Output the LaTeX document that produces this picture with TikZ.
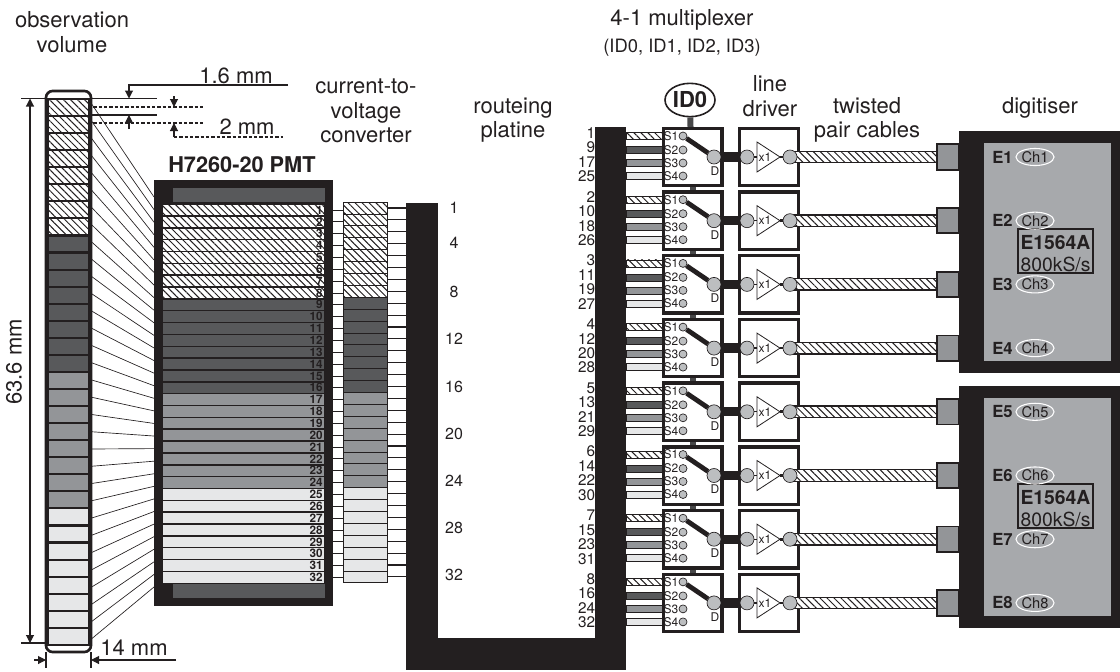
\documentclass[tikz,border=0pt]{standalone}
\usepackage{fontspec}
\setmainfont{TeX Gyre Heros}
\usetikzlibrary{shapes.geometric,patterns.meta,arrows.meta}
\definecolor{ink}{HTML}{231F20}
\definecolor{toneDark}{HTML}{58595B}
\definecolor{toneMid}{HTML}{939598}
\definecolor{toneLight}{HTML}{E6E7E8}
\definecolor{knob}{HTML}{BCBEC0}
\definecolor{panel}{HTML}{A7A9AC}
\tikzset{
hatch/.style={preaction={fill=white},pattern={Lines[angle=-45,distance=3.7pt,line width=.75pt]},pattern color=ink},
band0/.style={hatch},
band1/.style={fill=toneDark},
band2/.style={fill=toneMid},
band3/.style={fill=toneLight},
volcell/.style={rectangle,draw=ink,line width=1.6pt,inner sep=0pt,minimum width=31pt,minimum height=12.8pt},
pmtrow/.style={rectangle,draw=ink,line width=1.1pt,inner sep=0pt,minimum width=122pt,minimum height=8.9pt},
cvcrow/.style={rectangle,draw=ink,line width=.6pt,inner sep=0pt,minimum width=33pt,minimum height=8.9pt},
rownum/.style={font=\bfseries\fontsize{8.8}{8.8}\selectfont,text=ink,inner sep=0pt},
inband/.style={rectangle,draw=ink,line width=.4pt,inner sep=0pt,minimum width=27pt,minimum height=5.2pt},
unitbox/.style={rectangle,draw=ink,line width=2.5pt,fill=white,inner sep=0pt,minimum width=44pt,minimum height=43pt},
srcdot/.style={circle,draw=ink,line width=.5pt,fill=knob,inner sep=0pt,minimum size=6pt},
bigdot/.style={circle,draw=ink,line width=.5pt,fill=knob,inner sep=0pt,minimum size=10.5pt},
cable/.style={rectangle,draw=ink,line width=1pt,hatch,inner sep=0pt,minimum width=111pt,minimum height=8.6pt},
plug/.style={rectangle,draw=ink,line width=1.4pt,fill=toneMid,inner sep=0pt,minimum width=16pt,minimum height=19pt},
chan/.style={ellipse,draw=white,line width=.8pt,inner sep=0pt,minimum width=26pt,minimum height=12.8pt,font=\fontsize{11}{11}\selectfont,text=ink},
lbl/.style={font=\fontsize{16.5}{18.5}\selectfont,align=center,text=ink,inner sep=0pt},
dimtext/.style={font=\fontsize{16.5}{16.5}\selectfont,text=ink,inner sep=0pt},
dimline/.style={draw=ink,line width=.8pt},
dimdash/.style={draw=ink,line width=.8pt,dashed,dash pattern=on 2.5pt off 1.5pt},
tip/.style={-{Triangle[length=6pt,width=6pt]}}
}
\begin{document}
\begin{tikzpicture}[x=.75pt,y=-.75pt]
    \useasboundingbox (0,0) rectangle (1120,671);

    % headings
    \node[lbl] (hObs) at (72,32) {observation\\volume};
    \node[lbl] (hMux) at (682,20) {4-1 multiplexer};
    \node[lbl,font=\fontsize{13.8}{13.8}\selectfont] (hIds) at (682,48) {(ID0, ID1, ID2, ID3)};
    \node[lbl] (hCvc) at (366,111) {current-to-\\voltage\\converter};
    \node[lbl] (hRoute) at (513,120) {routeing\\platine};
    \node[lbl] (hLine) at (770,96) {line\\driver};
    \node[lbl] (hCable) at (867,120) {twisted\\pair cables};
    \node[lbl] (hDig) at (1040,108) {digitiser};
    \node[font=\bfseries\fontsize{16.3}{16.3}\selectfont,text=ink,inner sep=0pt,anchor=west] (hPmt) at (168,165) {H7260-20 PMT};

    % dimensions
    \coordinate (topL) at (21,98.5);
    \coordinate (topR) at (157,98.5);
    \coordinate (secL) at (66,115);
    \coordinate (secR) at (157,115);
    \draw[dimline] (topL)--(topR);
    \draw[dimline] (secL)--(secR);
    \draw[dimdash] (72,107)--(205,107);
    \draw[dimdash] (72,123)--(205,123);
    \draw[dimline,tip] (288,85)--(129,85)--(129,98.5);
    \draw[dimline,tip] (129,129)--(129,115);
    \draw[dimline,tip] (174,96)--(174,107);
    \draw[dimline,tip] (174,137)--(174,123);
    \draw[dimdash] (174,137)--(283,137);
    \node[dimtext] (d16) at (236,76) {1.6 mm};
    \node[dimtext] (d2) at (247,127) {2 mm};
    \coordinate (botL) at (21,643);
    \draw[dimline] (botL)--(46,643);
    \draw[dimline,{Triangle[length=6pt,width=6pt]}-{Triangle[length=6pt,width=6pt]}] (30,98.5)--(30,643);
    \node[dimtext,rotate=90] (d636) at (14,362) {63.6 mm};
    \draw[dimline] (46,652)--(46,668);
    \draw[dimline] (91,652)--(91,668);
    \draw[dimline,tip] (34,660)--(46,660);
    \draw[dimline,tip] (176,660)--(91,660);
    \node[dimtext] (d14) at (134,648) {14 mm};

    % photomultiplier body
    \fill[ink] (154,180) rectangle (333,606);
    \fill[toneDark] (173,188) rectangle (325,202);
    \fill[toneDark] (173,584) rectangle (325,598);
    \fill[ink] (406,203) rectangle (438,670);
    \fill[ink] (406,638) rectangle (626,670);
    \fill[ink] (595,127) rectangle (626,668);
    \coordinate (platL) at (406,203);
    \coordinate (platR) at (626,127);

    \foreach \i in {1,...,32}{
        \pgfmathtruncatemacro\grp{int((\i-1)/8)}
        \pgfmathsetmacro\yv{107.5+(\i-1)*17.06}
        \pgfmathsetmacro\yp{210+(\i-1)*11.85}
        \pgfmathsetmacro\yc{208+(\i-1)*11.9}
        \pgfmathsetmacro\yl{103+(\i-1)*17.3}
        \pgfmathsetmacro\yr{197+(\i-1)*12.58}
        \node[volcell,band\grp] (vol\i) at (68.5,\yv) {};
        \node[pmtrow,band\grp] (pmt\i) at (243.5,\yp) {};
        \node[rownum,anchor=east] (num\i) at (323,\yp) {\i};
        \node[cvcrow,band\grp] (cvc\i) at (365,\yc) {};
        \coordinate (fanA\i) at (91,\yl);
        \coordinate (fanB\i) at (154,\yr);
        \draw[ink,line width=.5pt] (fanA\i)--(fanB\i);
        \draw[ink,line width=.6pt] (pmt\i.east)--(pmt\i.east -| cvc\i.west);
        \draw[ink,line width=.8pt] (cvc\i.east)--(cvc\i.east -| platL);
    }
    \draw[ink,line width=2pt,rounded corners=5pt] (46,91) rectangle (91,652);

    % pin numbers of the platine
    \foreach \lab/\yy in {1/208,4/243,8/292,12/339,16/387,20/434,24/481,28/528,32/575}{
        \node[lbl,font=\fontsize{12}{12}\selectfont] (pin\lab) at (454,\yy) {\lab};
    }

    \node[ellipse,draw=ink,line width=1.2pt,inner sep=0pt,minimum width=37.5pt,minimum height=25pt,font=\bfseries\fontsize{16.5}{16.5}\selectfont,text=ink] (id0) at (690,100) {ID0};
    \coordinate (muxTop) at (690.5,127);
    \draw[toneDark!70!ink,line width=4.5pt] (id0)--(muxTop);

    % one multiplexer, driver and cable per channel
    \foreach \n in {1,...,8}{
        \pgfmathsetmacro\yy{157+(\n-1)*63.7}
        \pgfmathtruncatemacro\nb{\n+8}
        \pgfmathtruncatemacro\nc{\n+16}
        \pgfmathtruncatemacro\nd{\n+24}
        \node[unitbox] (mux\n) at (692.5,\yy) {};
        \node[unitbox] (drv\n) at (769,\yy) {};
        \node[cable] (cab\n) at (868,\yy) {};
        \node[plug] (plug\n) at (948,\yy) {};
        \foreach \s/\dy/\rowy/\lab/\tone in {1/-21/-24/\n/band0,2/-7/-9.5/\nb/band1,3/6/5/\nc/band2,4/19/19.5/\nd/band3}{
            \node[inband,\tone] (in\n\s) at (644,\yy+\dy) {};
            \node[srcdot] (src\n\s) at (683,\yy+\dy) {};
            \node[font=\fontsize{9}{9}\selectfont,text=ink,inner sep=0pt] (slab\n\s) at (671,\yy+\dy) {S\s};
            \node[lbl,anchor=east,font=\fontsize{11.5}{11.5}\selectfont] (row\n\s) at (595.5,\yy+\rowy) {\lab};
        }
        \node[bigdot] (dd\n) at (714,\yy) {};
        \node[font=\fontsize{9}{9}\selectfont,text=ink,inner sep=0pt] (dlab\n) at (715,\yy+14) {D};
        \node[bigdot] (inp\n) at (747,\yy) {};
        \node[bigdot] (out\n) at (790,\yy) {};
        \draw[ink,line width=3.6pt] (src\n1)--(dd\n);
        \draw[ink,line width=7pt] (dd\n)--(inp\n);
        \coordinate (triA\n) at (757,\yy-15);
        \coordinate (triB\n) at (757,\yy+15);
        \coordinate (triC\n) at (780,\yy);
        \draw[ink,line width=.6pt] (triA\n)--(triB\n)--(triC\n)--cycle;
        \draw[ink,line width=2pt] (triC\n)--(out\n);
        \draw[ink,line width=1pt] (inp\n)--(triA\n |- inp\n);
        \node[font=\fontsize{9}{9}\selectfont,text=ink,inner sep=0pt] (gain\n) at (765,\yy) {x1};
    }
    \foreach \n [count=\m from 2] in {1,...,7}{
        \draw[toneDark!70!ink,line width=4.5pt] (mux\n)--(mux\m);
    }

    % digitisers
    \foreach \top/\bot/\itop/\ibot/\boxtop in {131/373/143/361/229,386/628/398/616/484}{
        \fill[ink] (959,\top) rectangle (1120,\bot);
        \fill[panel] (984,\itop) rectangle (1111,\ibot);
        \draw[ink,line width=1pt] (1018,\boxtop) rectangle (1093,\boxtop+44);
        \node[font=\bfseries\fontsize{14.5}{14.5}\selectfont,text=ink,inner sep=0pt] (card\top) at (1055.5,\boxtop+14) {E1564A};
        \node[font=\fontsize{14.5}{14.5}\selectfont,text=ink,inner sep=0pt] (rate\top) at (1055.5,\boxtop+35) {800kS/s};
    }
    \foreach \n in {1,...,8}{
        \pgfmathsetmacro\yy{157+(\n-1)*63.7}
        \node[font=\bfseries\fontsize{12.5}{12.5}\selectfont,text=ink,inner sep=0pt] (elab\n) at (1002.5,\yy) {E\n};
        \node[chan] (ch\n) at (1035,\yy) {Ch\n};
    }
\end{tikzpicture}
\end{document}
